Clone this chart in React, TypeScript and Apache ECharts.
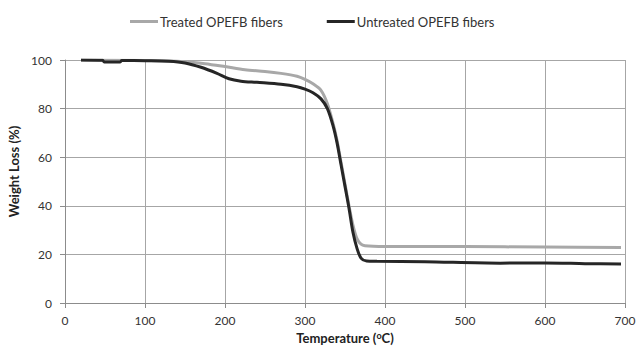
import React, { useEffect, useRef } from "react";
import * as echarts from "echarts";

const seriesNames = ["Treated OPEFB fibers", "Untreated OPEFB fibers"];

const treated: [number, number][] = [
  [20, 100], [100, 99.8], [150, 99.3], [175, 98.5], [200, 97.3], [225, 96],
  [250, 95.3], [270, 94.5], [290, 93.3], [300, 92], [310, 90.2], [320, 87.5],
  [328, 82], [335, 74], [340, 67], [345, 58], [350, 49], [355, 40], [360, 32],
  [365, 26.5], [370, 24.2], [375, 23.6], [400, 23.3], [500, 23.2], [600, 23],
  [695, 22.8],
];

const untreated: [number, number][] = [
  [20, 100], [47, 99.9], [49, 99.2], [69, 99.2], [71, 99.8], [100, 99.7],
  [130, 99.5], [150, 98.8], [170, 97], [190, 94.5], [205, 92.3], [220, 91.3],
  [240, 90.8], [270, 90], [290, 89], [300, 88], [310, 86.5], [320, 84],
  [328, 80], [335, 73], [340, 66], [345, 57], [350, 48], [355, 39], [360, 29],
  [365, 22.5], [370, 18.5], [377, 17.3], [390, 17.2], [450, 17], [544, 16.4],
  [600, 16.5], [650, 16.2], [695, 16],
];

const xTicks = { min: 0, max: 700, interval: 100 };
const yTicks = { min: 0, max: 100, interval: 20 };

export default function App() {
  const ref = useRef<HTMLDivElement>(null);
  useEffect(() => {
    if (!ref.current) return;
    const chart = echarts.init(ref.current, null, { renderer: "svg" });
    const font = "Lato";
    chart.setOption({
      animation: false,
      backgroundColor: "#ffffff",
      textStyle: { fontFamily: font },
      legend: {
        top: 10,
        left: 125,
        itemGap: 44,
        itemWidth: 28,
        itemHeight: 3,
        icon: "rect",
        textStyle: { fontSize: 13, color: "#333", fontFamily: font, padding: [0, 0, 0, -3] },
        data: seriesNames,
      },
      grid: { left: 65, right: 13, top: 60, bottom: 45, containLabel: false, outerBoundsMode: "none" },
      xAxis: {
        type: "value",
        min: xTicks.min,
        max: xTicks.max,
        interval: xTicks.interval,
        name: "Temperature ({sup|o}C)",
        nameLocation: "middle",
        nameGap: 28,
        nameTextStyle: {
          fontSize: 13,
          fontWeight: "bold",
          color: "#222",
          fontFamily: font,
          rich: { sup: { fontSize: 9, fontWeight: "bold", verticalAlign: "top", padding: [0, 0, 3, 0], color: "#222", fontFamily: font } },
        },
        axisLine: { lineStyle: { color: "#8c8c8c", width: 1 } },
        axisTick: { show: true, length: 5, lineStyle: { color: "#8c8c8c" } },
        axisLabel: { fontSize: 12, color: "#333", margin: 11 },
        splitLine: { show: true, lineStyle: { color: "#a6a6a6", width: 1 } },
      },
      yAxis: {
        type: "value",
        min: yTicks.min,
        max: yTicks.max,
        interval: yTicks.interval,
        name: "Weight Loss (%)",
        nameLocation: "middle",
        nameGap: 38,
        nameTextStyle: { fontSize: 13, fontWeight: "bold", color: "#222", fontFamily: font, padding: [0, 0, 0, 20] },
        axisLine: { show: true, lineStyle: { color: "#8c8c8c", width: 1 } },
        axisTick: { show: true, length: 5, lineStyle: { color: "#8c8c8c" } },
        axisLabel: { fontSize: 12, color: "#333", margin: 13 },
        splitLine: { show: true, lineStyle: { color: "#a6a6a6", width: 1 } },
      },
      series: [
        {
          name: seriesNames[0],
          type: "line",
          data: treated,
          smooth: 0.3,
          showSymbol: false,
          symbol: "none",
          color: "#a8a8a8",
          lineStyle: { color: "#a8a8a8", width: 3 },
          z: 2,
        },
        {
          name: seriesNames[1],
          type: "line",
          data: untreated,
          smooth: 0.3,
          showSymbol: false,
          symbol: "none",
          color: "#262626",
          lineStyle: { color: "#262626", width: 3 },
          z: 3,
        },
      ],
    });
    return () => chart.dispose();
  }, []);
  return (
    <div
      ref={ref}
      style={{ position: "absolute", left: 0, top: 0, width: 638, height: 348 }}
    />
  );
}
